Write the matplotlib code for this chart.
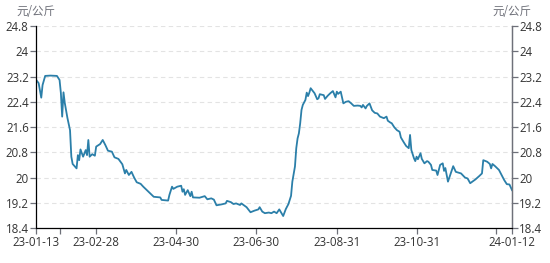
import datetime as dt
import matplotlib
matplotlib.use("Agg")
import matplotlib.pyplot as plt

plt.rcParams['font.family'] = ['Open Sans', 'Noto Sans CJK SC', 'DejaVu Sans']

# 数据: 自 2023-01-13 起的天数, 价格 (元/公斤)
start = dt.date(2023, 1, 13)
day_offsets = [
    0, 2, 4, 5, 7, 11, 16, 18, 19, 20, 21, 22, 24, 26, 27, 28, 31, 32, 33, 34,
    36, 38, 39, 40, 41, 43, 45, 46, 49, 51, 53, 55, 58, 60, 63, 66, 68, 69, 71, 73,
    75, 77, 80, 82, 86, 90, 95, 96, 101, 102, 104, 105, 108, 111, 112, 113, 114, 116, 118, 119,
    120, 125, 129, 131, 134, 136, 138, 142, 145, 146, 149, 151, 153, 156, 157, 161, 164, 167, 170, 171,
    173, 175, 178, 180, 182, 184, 186, 187, 189, 191, 193, 195, 196, 198, 199, 200, 201, 202, 203, 204,
    206, 207, 208, 209, 210, 212, 213, 215, 216, 217, 220, 221, 223, 225, 227, 229, 230, 231, 233, 235,
    237, 239, 241, 243, 246, 248, 249, 250, 252, 253, 255, 257, 259, 261, 263, 266, 268, 269, 271, 272,
    274, 276, 278, 279, 281, 283, 285, 286, 287, 289, 290, 291, 292, 294, 295, 297, 299, 300, 302, 303,
    306, 307, 309, 311, 312, 313, 315, 319, 321, 325, 328, 330, 332, 336, 339, 341, 342, 345, 347, 348,
    349, 351, 354, 356, 358, 360, 362, 364,
]
prices = [
    23.10, 22.99, 22.53, 22.93, 23.22, 23.23, 23.22, 23.09, 22.68, 21.93, 22.70, 22.36, 21.89, 21.50, 20.66, 20.43, 20.29, 20.71, 20.55, 20.89,
    20.66, 20.87, 20.71, 21.19, 20.66, 20.74, 20.69, 20.98, 21.06, 21.19, 21.03, 20.85, 20.82, 20.64, 20.59, 20.42, 20.13, 20.24, 20.08, 20.18,
    20.00, 19.85, 19.80, 19.71, 19.55, 19.39, 19.37, 19.29, 19.27, 19.45, 19.71, 19.64, 19.71, 19.74, 19.55, 19.63, 19.45, 19.60, 19.41, 19.55,
    19.37, 19.36, 19.41, 19.31, 19.34, 19.30, 19.12, 19.15, 19.18, 19.26, 19.22, 19.16, 19.18, 19.13, 19.18, 19.06, 18.90, 18.95, 18.99, 19.06,
    18.92, 18.87, 18.89, 18.87, 18.92, 18.87, 18.99, 18.92, 18.78, 19.00, 19.16, 19.42, 19.87, 20.35, 20.93, 21.24, 21.40, 21.72, 22.14, 22.30,
    22.46, 22.69, 22.58, 22.69, 22.83, 22.72, 22.67, 22.48, 22.51, 22.64, 22.61, 22.49, 22.59, 22.67, 22.74, 22.54, 22.72, 22.65, 22.72, 22.35,
    22.40, 22.42, 22.35, 22.27, 22.28, 22.27, 22.22, 22.30, 22.19, 22.27, 22.35, 22.13, 22.05, 22.03, 21.93, 21.88, 21.93, 21.80, 21.74, 21.72,
    21.59, 21.50, 21.45, 21.27, 21.13, 21.00, 20.93, 21.35, 20.87, 20.61, 20.52, 20.66, 20.58, 20.77, 20.59, 20.45, 20.52, 20.50, 20.40, 20.24,
    20.22, 20.08, 20.40, 20.45, 20.21, 20.30, 19.87, 20.36, 20.18, 20.13, 20.00, 19.97, 19.82, 19.94, 20.05, 20.13, 20.55, 20.50, 20.43, 20.29,
    20.43, 20.36, 20.24, 20.08, 19.92, 19.79, 19.78, 19.60,
]
dates = [start + dt.timedelta(days=d) for d in day_offsets]

tick_labels = ['23-01-13', '23-02-28', '23-04-30', '23-06-30', '23-08-31', '23-10-31', '24-01-12']
tick_dates = [dt.date(2023, 1, 13), dt.date(2023, 2, 28), dt.date(2023, 4, 30), dt.date(2023, 6, 30),
              dt.date(2023, 8, 31), dt.date(2023, 10, 31), dt.date(2024, 1, 12)]
extra_ticks = [dt.date(2023, 1, 31), dt.date(2023, 12, 31)]
y_ticks = [18.4, 19.2, 20, 20.8, 21.6, 22.4, 23.2, 24, 24.8]
y_labels = ['18.4', '19.2', '20', '20.8', '21.6', '22.4', '23.2', '24', '24.8']

axis_grey = '#6e7079'
fs = 8.3

fig = plt.figure(figsize=(5.5, 2.63), dpi=100)
ax = fig.add_axes([0.0655, 0.133, 0.8655, 0.768])

ax.plot(dates, prices, color='#2b7fa9', linewidth=1.3)

ax.set_xlim(tick_dates[0], tick_dates[-1])
ax.set_ylim(18.4, 24.8)
ax.set_yticks(y_ticks)
ax.set_yticklabels(y_labels)
ax.set_xticks(tick_dates)
ax.set_xticklabels(tick_labels)
ax.set_xticks(extra_ticks, minor=True)

ax.grid(axis='y', linestyle=(0, (4, 3)), color='#e3e3e3', linewidth=0.8)
ax.set_axisbelow(True)

ax.spines['top'].set_visible(False)
for s in ['left', 'right', 'bottom']:
    ax.spines[s].set_color(axis_grey)
    ax.spines[s].set_linewidth(0.9)

ax.tick_params(axis='both', which='both', direction='out', length=4, width=0.9,
               color=axis_grey, labelsize=fs, labelcolor='#333333', pad=1.2)
ax.tick_params(axis='x', pad=2)

ax2 = ax.twinx()
ax2.set_ylim(18.4, 24.8)
ax2.set_yticks(y_ticks)
ax2.set_yticklabels(y_labels)
ax2.spines['top'].set_visible(False)
ax2.spines['right'].set_color(axis_grey)
ax2.spines['right'].set_linewidth(0.9)
ax2.tick_params(axis='y', direction='out', length=4, width=0.9, color=axis_grey,
                labelsize=fs, labelcolor='#333333', pad=1)

# 单位标注, 居中于两侧坐标轴上方
cjk = ['Noto Sans CJK SC', 'DejaVu Sans']
ax.text(0, 1.07, '元/公斤', transform=ax.transAxes, fontsize=fs, color=axis_grey,
        va='center', ha='center', family=cjk)
ax.text(1, 1.07, '元/公斤', transform=ax.transAxes, fontsize=fs, color=axis_grey,
        va='center', ha='center', family=cjk)

fig.savefig('out.png', dpi=100)
